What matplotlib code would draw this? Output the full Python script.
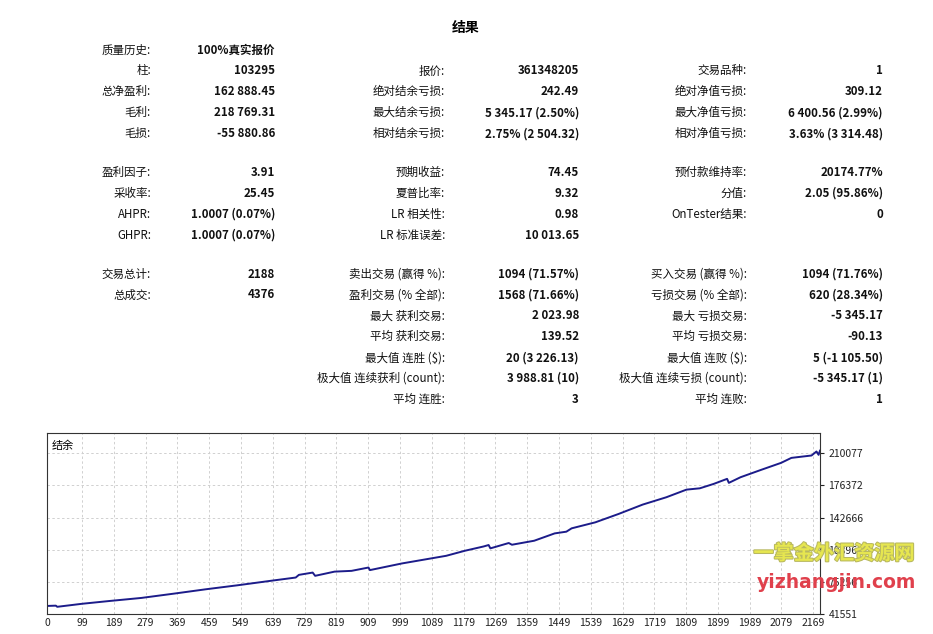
import matplotlib
matplotlib.use("Agg")
import matplotlib.pyplot as plt
import matplotlib.patheffects as pe

plt.rcParams['font.family'] = ['Noto Sans CJK SC', 'DejaVu Sans']

W, H = 933, 634

# 统计表格 (标签, 数值)
col1_g1 = [("质量历史:", "100%真实报价"), ("柱:", "103295"), ("总净盈利:", "162 888.45"),
           ("毛利:", "218 769.31"), ("毛损:", "-55 880.86")]
col2_g1 = [("报价:", "361348205"), ("绝对结余亏损:", "242.49"),
           ("最大结余亏损:", "5 345.17 (2.50%)"), ("相对结余亏损:", "2.75% (2 504.32)")]
col3_g1 = [("交易品种:", "1"), ("绝对净值亏损:", "309.12"),
           ("最大净值亏损:", "6 400.56 (2.99%)"), ("相对净值亏损:", "3.63% (3 314.48)")]

col1_g2 = [("盈利因子:", "3.91"), ("采收率:", "25.45"),
           ("AHPR:", "1.0007 (0.07%)"), ("GHPR:", "1.0007 (0.07%)")]
col2_g2 = [("预期收益:", "74.45"), ("夏普比率:", "9.32"),
           ("LR 相关性:", "0.98"), ("LR 标准误差:", "10 013.65")]
col3_g2 = [("预付款维持率:", "20174.77%"), ("分值:", "2.05 (95.86%)"), ("OnTester结果:", "0")]

col1_g3 = [("交易总计:", "2188"), ("总成交:", "4376")]
col2_g3 = [("卖出交易 (赢得 %):", "1094 (71.57%)"), ("盈利交易 (% 全部):", "1568 (71.66%)"),
           ("最大 获利交易:", "2 023.98"), ("平均 获利交易:", "139.52"),
           ("最大值 连胜 ($):", "20 (3 226.13)"), ("极大值 连续获利 (count):", "3 988.81 (10)"),
           ("平均 连胜:", "3")]
col3_g3 = [("买入交易 (赢得 %):", "1094 (71.76%)"), ("亏损交易 (% 全部):", "620 (28.34%)"),
           ("最大 亏损交易:", "-5 345.17"), ("平均 亏损交易:", "-90.13"),
           ("最大值 连败 ($):", "5 (-1 105.50)"), ("极大值 连续亏损 (count):", "-5 345.17 (1)"),
           ("平均 连败:", "1")]

# 结余曲线 (交易序号, 结余)
trades = [0, 25, 29, 100, 177, 267, 359, 450, 540, 632, 704, 713, 752, 759, 814, 862,
          910, 914, 1005, 1130, 1183, 1236, 1250, 1255, 1307, 1316, 1379, 1437, 1470,
          1485, 1552, 1618, 1686, 1753, 1810, 1848, 1887, 1925, 1930, 1963, 2021, 2078,
          2107, 2164, 2178, 2184, 2188]
balance = [50000, 50300, 49100, 52300, 55200, 58400, 62900, 67500, 71700, 76300, 79800,
           82600, 85000, 81600, 86000, 86800, 90300, 87600, 94600, 102600, 107900, 112400,
           113900, 110400, 116000, 114200, 118400, 126100, 127900, 131400, 137700, 146500,
           156300, 164000, 172000, 173400, 178000, 183300, 179100, 185000, 192700, 200100,
           205300, 207800, 212000, 208500, 212888]

x_ticks = [0, 99, 189, 279, 369, 459, 549, 639, 729, 819, 909, 999, 1089, 1179, 1269,
           1359, 1449, 1539, 1629, 1719, 1809, 1899, 1989, 2079, 2169]
y_ticks = [41551, 75256, 108961, 142666, 176372, 210077]


def fx(px):
    return px / W


def fy(py):
    return 1 - py / H


fig = plt.figure(figsize=(W / 100, H / 100), dpi=100)

fig.text(fx(466), fy(28), "结果", ha='center', va='center', fontsize=10, fontweight='bold')

label_right = [151, 445, 747]
value_right = [275, 579, 883]
step = 20.9


def draw_group(rows, col, y0):
    for i, (lab, val) in enumerate(rows):
        y = fy(y0 + i * step)
        fig.text(fx(label_right[col]), y, lab, ha='right', va='center', fontsize=8.3, color='#111111')
        fig.text(fx(value_right[col]), y, val, ha='right', va='center', fontsize=8.3,
                 fontweight='bold', color='#111111')


draw_group(col1_g1, 0, 50)
draw_group(col2_g1, 1, 50 + step)
draw_group(col3_g1, 2, 50 + step)
draw_group(col1_g2, 0, 172.5)
draw_group(col2_g2, 1, 172.5)
draw_group(col3_g2, 2, 172.5)
draw_group(col1_g3, 0, 274)
draw_group(col2_g3, 1, 274)
draw_group(col3_g3, 2, 274)

# 图表
ax = fig.add_axes([fx(47), fy(614), (820 - 47) / W, (614 - 433) / H])
ax.plot(trades, balance, color='#1c1c8a', lw=1.4)
ax.set_xlim(0, 2188)
ax.set_ylim(41551, 231400)
ax.set_xticks(x_ticks)
ax.set_yticks(y_ticks)
ax.set_xticklabels([str(t) for t in x_ticks])
ax.set_yticklabels([str(t) for t in y_ticks])
ax.yaxis.tick_right()
ax.tick_params(axis='x', length=0, labelsize=7.5, pad=3, colors='#222222')
ax.tick_params(axis='y', length=3, labelsize=7.5, pad=3, colors='#222222')
ax.grid(True, color='#d0d0d0', linestyle=(0, (2.5, 2.5)), lw=0.7)
for s in ax.spines.values():
    s.set_color('#333333')
    s.set_linewidth(0.8)
ax.text(0.006, 0.96, "结余", transform=ax.transAxes, ha='left', va='top', fontsize=8)

# 水印
fig.text(fx(834), fy(553), "一掌金外汇资源网", ha='center', va='center', fontsize=14.5,
         fontweight='bold', color='#e6e650',
         path_effects=[pe.withStroke(linewidth=1.5, foreground='#b8b860')])
fig.text(fx(836), fy(583), "yizhangjin.com", ha='center', va='center', fontsize=13.5,
         fontweight='bold', color='#e0404c', family=['DejaVu Sans'])

fig.savefig("out.png", dpi=100)
